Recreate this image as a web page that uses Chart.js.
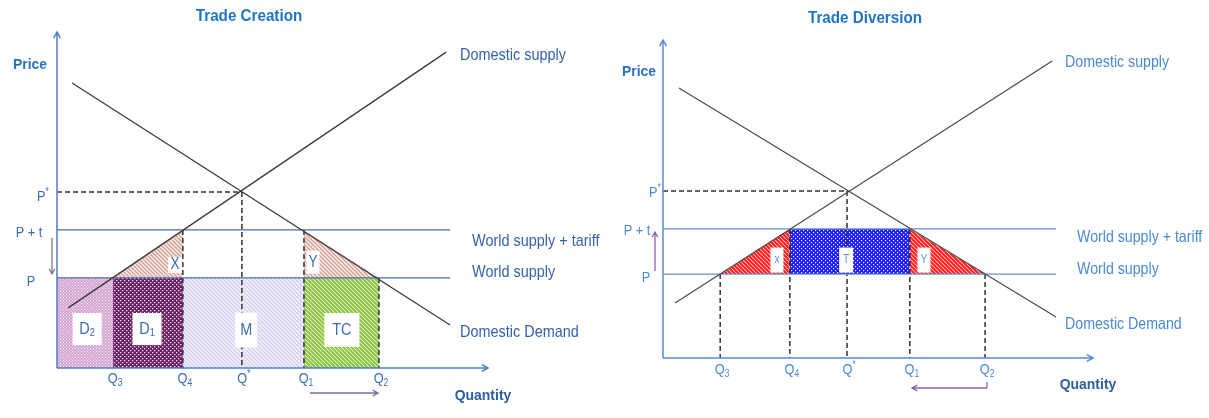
<!DOCTYPE html>
<html>
<head>
<meta charset="utf-8">
<script src="https://cdn.jsdelivr.net/npm/chart.js@4.4.1/dist/chart.umd.min.js"></script>
<style>
    html, body { margin: 0; padding: 0; background: #fff; }
    body { width: 1209px; height: 418px; position: relative; overflow: hidden; }
    canvas { position: absolute; top: 0; }
    #creation { left: 0; }
    #diversion { left: 605px; }
</style>
</head>
<body>
<canvas id="creation" width="605" height="418"></canvas>
<canvas id="diversion" width="604" height="418"></canvas>
<script>
// --- Data (quantity 0-100 on x, price 0-100 on y) ---
const qSubs = ['3', '4', '*', '1', '2'];           // Q3, Q4, Q*, Q1, Q2
const pNames = ['P', 'P + t', 'P'];               // P, P+t, P*
const sideNames = ['Domestic supply', 'World supply + tariff', 'World supply', 'Domestic Demand'];

// Trade Creation
const creationQ = [13.0, 29.2, 42.9, 57.3, 74.7];
const creationP = [26.8, 41.1, 52.4];             // P, P+t, P*
const creationDemand = [{ x: 3.5, y: 84.8 }, { x: 91.2, y: 12.8 }];
const creationSupply = [{ x: 2.6, y: 17.9 }, { x: 90.3, y: 94.0 }];
const creationLineEnd = 91.2;

// Trade Diversion
const diversionQ = [13.3, 29.5, 42.8, 57.4, 74.9];
const diversionP = [26.4, 40.6, 52.5];
const diversionDemand = [{ x: 3.7, y: 84.9 }, { x: 91.4, y: 12.9 }];
const diversionSupply = [{ x: 2.8, y: 17.3 }, { x: 90.5, y: 93.4 }];
const diversionLineEnd = 91.4;

// --- Patterns ---
function hatch(ctx, bg, fg, size, lw) {
    const c = document.createElement('canvas');
    c.width = c.height = size;
    const g = c.getContext('2d');
    g.fillStyle = bg;
    g.fillRect(0, 0, size, size);
    g.strokeStyle = fg;
    g.lineWidth = lw;
    g.beginPath();
    g.moveTo(-1, -1); g.lineTo(size + 1, size + 1);
    g.moveTo(-2, size - 2); g.lineTo(2, size + 2);
    g.moveTo(size - 2, -2); g.lineTo(size + 2, 2);
    g.stroke();
    return ctx.createPattern(c, 'repeat');
}

function dots(ctx, bg, fg, size, d) {
    const c = document.createElement('canvas');
    c.width = c.height = size;
    const g = c.getContext('2d');
    g.fillStyle = bg;
    g.fillRect(0, 0, size, size);
    g.fillStyle = fg;
    g.fillRect(0, 0, d, d);
    g.fillRect(size / 2, size / 2, d, d);
    return ctx.createPattern(c, 'repeat');
}

// --- Dataset helpers ---
const seg = (x1, y1, x2, y2) => [{ x: x1, y: y1 }, { x: x2, y: y2 }];

function lineSet(data, color, width, dash) {
    return { data, borderColor: color, borderWidth: width, borderDash: dash || [], fill: false, pointRadius: 0 };
}

function fillSet(data, pattern, base) {
    return { data, borderWidth: 0, borderColor: 'rgba(0,0,0,0)', backgroundColor: pattern, fill: { value: base }, pointRadius: 0 };
}

// --- Text helpers ---
function txt(ctx, s, x, y, o) {
    ctx.save();
    ctx.font = (o.bold ? 'bold ' : '') + o.size + 'px "Liberation Sans", Arial, sans-serif';
    ctx.fillStyle = o.color;
    ctx.textBaseline = 'middle';
    ctx.textAlign = 'left';
    const w = ctx.measureText(s).width * (o.sx || 1);
    let x0 = x;
    if (o.align === 'center') x0 = x - w / 2;
    if (o.align === 'right') x0 = x - w;
    ctx.translate(x0, y);
    ctx.scale(o.sx || 1, 1);
    ctx.fillText(s, 0, 0);
    ctx.restore();
    return w;
}

function measure(ctx, s, size, sx) {
    ctx.save();
    ctx.font = size + 'px "Liberation Sans", Arial, sans-serif';
    const w = ctx.measureText(s).width * sx;
    ctx.restore();
    return w;
}

// letter with small index (subscript, or superscript for *)
function indexed(ctx, main, sub, x, y, o) {
    const small = Math.round(o.size * 0.65);
    const w1 = measure(ctx, main, o.size, o.sx);
    const w2 = measure(ctx, sub, small, o.sx);
    let x0 = x - (w1 + w2) / 2;
    if (o.align === 'right') x0 = x - w1 - w2;
    txt(ctx, main, x0, y, { size: o.size, color: o.color, sx: o.sx });
    const dy = sub === '*' ? -o.size * 0.3 : o.size * 0.25;
    txt(ctx, sub, x0 + w1, y + dy, { size: small, color: o.color, sx: o.sx });
}

function arrow(ctx, x1, y1, x2, y2, color, width, head) {
    const a = Math.atan2(y2 - y1, x2 - x1);
    ctx.save();
    ctx.strokeStyle = color;
    ctx.lineWidth = width;
    ctx.beginPath();
    ctx.moveTo(x1, y1);
    ctx.lineTo(x2, y2);
    ctx.moveTo(x2 - head * Math.cos(a - 0.5), y2 - head * Math.sin(a - 0.5));
    ctx.lineTo(x2, y2);
    ctx.lineTo(x2 - head * Math.cos(a + 0.5), y2 - head * Math.sin(a + 0.5));
    ctx.stroke();
    ctx.restore();
}

// --- Plugin: axes, labels and annotations ---
const deco = {
    id: 'deco',
    afterDatasetsDraw(chart, args, o) {
        const ctx = chart.ctx;
        const area = chart.chartArea;
        const xs = chart.scales.x;
        const ys = chart.scales.y;

        // axes with arrows
        arrow(ctx, area.left, area.bottom, area.left, area.top, o.axisColor, 1.5, 7);
        arrow(ctx, area.left, area.bottom, area.right, area.bottom, o.axisColor, 1.5, 7);

        // boxed area labels
        o.boxes.forEach(b => {
            const cx = xs.getPixelForValue(b.x);
            const cy = ys.getPixelForValue(b.y);
            ctx.fillStyle = '#ffffff';
            ctx.fillRect(cx - b.w / 2, cy - b.h / 2, b.w, b.h);
            const f = { size: b.size, color: o.boxColor, sx: 0.85, align: 'center' };
            if (b.sub) indexed(ctx, b.main, b.sub, cx, cy, f);
            else txt(ctx, b.main, cx, cy, f);
        });

        // Q tick labels
        o.q.forEach((v, i) => {
            indexed(ctx, 'Q', qSubs[i], xs.getPixelForValue(v) + 2, o.qY, { size: 15, color: o.tickColor, sx: 0.85 });
        });

        // P labels
        const pf = { size: 15, color: o.tickColor, sx: 0.85, align: 'center' };
        txt(ctx, pNames[0], o.pPos[0][0], o.pPos[0][1], pf);
        txt(ctx, pNames[1], o.pPos[1][0], o.pPos[1][1], pf);
        indexed(ctx, pNames[2], '*', o.pPos[2][0], o.pPos[2][1], pf);

        // names of the curves
        sideNames.forEach((s, i) => {
            txt(ctx, s, o.side[i][0], o.side[i][1], { size: o.sideSize, color: o.sideColor, sx: o.sideSx });
        });

        // titles
        txt(ctx, o.title, o.titlePos[0], o.titlePos[1], { size: 16, bold: true, color: '#1f74c6', sx: 0.95, align: 'center' });
        txt(ctx, 'Price', o.pricePos[0], o.pricePos[1], { size: 15, bold: true, color: '#2a72c0', sx: 0.93, align: 'center' });
        txt(ctx, 'Quantity', o.qtyPos[0], o.qtyPos[1], { size: 15, bold: true, color: '#2b5e9e', sx: 0.93, align: 'center' });

        // small movement arrows
        o.arrows.forEach(a => arrow(ctx, a[0], a[1], a[2], a[3], a[4], 1.3, 6));
        if (o.tick) {
            ctx.strokeStyle = o.tick[3];
            ctx.lineWidth = 1.3;
            ctx.beginPath();
            ctx.moveTo(o.tick[0], o.tick[1]);
            ctx.lineTo(o.tick[0], o.tick[2]);
            ctx.stroke();
        }
    }
};

function baseOptions(padding, decoOpts) {
    return {
        responsive: false,
        animation: false,
        devicePixelRatio: 1,
        events: [],
        layout: { padding },
        scales: {
            x: { type: 'linear', min: 0, max: 100, display: false },
            y: { type: 'linear', min: 0, max: 100, display: false }
        },
        elements: { point: { radius: 0 }, line: { tension: 0 } },
        plugins: { legend: { display: false }, tooltip: { enabled: false }, deco: decoOpts }
    };
}

// --- Trade Creation chart ---
const ctxC = document.getElementById('creation').getContext('2d');
const [cQ3, cQ4, cQs, cQ1, cQ2] = creationQ;
const [cP, cPt, cPs] = creationP;
const blueC = '#4a6db3';
const dashC = [5, 3];

new Chart(ctxC, {
    type: 'line',
    data: {
        datasets: [
            lineSet(creationDemand, '#3a3a3a', 1.3),
            lineSet(creationSupply, '#3a3a3a', 1.3),
            lineSet(seg(0, cPt, creationLineEnd, cPt), blueC, 1.3),
            lineSet(seg(0, cP, creationLineEnd, cP), blueC, 1.3),
            lineSet(seg(0, cPs, cQs, cPs), '#333', 1.5, dashC),
            lineSet(seg(cQs, cPs, cQs, 0), '#333', 1.5, dashC),
            lineSet(seg(cQ4, cPt, cQ4, 0), '#333', 1.5, dashC),
            lineSet(seg(cQ1, cPt, cQ1, 0), '#333', 1.5, dashC),
            lineSet(seg(cQ2, cP, cQ2, 0), '#333', 1.5, dashC),
            fillSet(seg(0, cP, cQ3, cP), dots(ctxC, '#d6a6d3', '#f7eaf6', 3, 1), 0),
            fillSet(seg(cQ3, cP, cQ4, cP), dots(ctxC, '#6b2063', '#f0dcee', 4, 1.3), 0),
            fillSet(seg(cQ4, cP, cQ1, cP), hatch(ctxC, '#f4f2fc', '#cdc6ef', 4, 1.1), 0),
            fillSet(seg(cQ1, cP, cQ2, cP), hatch(ctxC, '#ffffff', '#8dc540', 4, 2.2), 0),
            fillSet(seg(cQ3, cP, cQ4, cPt), hatch(ctxC, '#fbf0ee', '#d99a8e', 4, 1.3), cP),
            fillSet(seg(cQ1, cPt, cQ2, cP), hatch(ctxC, '#fbf0ee', '#d99a8e', 4, 1.3), cP)
        ]
    },
    options: baseOptions({ left: 57, right: 117, top: 32, bottom: 50 }, {
        axisColor: '#4f7fc4',
        boxColor: '#3f6db3',
        tickColor: '#3a6db5',
        sideColor: '#3562ad',
        sideSize: 17,
        sideSx: 0.85,
        q: creationQ,
        qY: 379,
        boxes: [
            { x: 7.0, y: 11.6, w: 29, h: 32, main: 'D', sub: '2', size: 17 },
            { x: 20.9, y: 11.6, w: 29, h: 32, main: 'D', sub: '1', size: 17 },
            { x: 43.9, y: 11.3, w: 22, h: 35, main: 'M', size: 17 },
            { x: 66.1, y: 11.3, w: 35, h: 34, main: 'TC', size: 17 },
            { x: 27.4, y: 30.7, w: 14, h: 16, main: 'X', size: 16 },
            { x: 59.4, y: 31.5, w: 13, h: 23, main: 'Y', size: 16 }
        ],
        pPos: [[31, 282], [29, 233], [43, 197]],
        side: [[460, 55], [472, 241], [472, 272], [460, 332]],
        title: 'Trade Creation',
        titlePos: [249, 17],
        pricePos: [30, 65],
        qtyPos: [483, 396],
        arrows: [[52, 238, 52, 274, '#7b7b98'], [310, 393, 378, 393, '#7d6ca0']]
    }),
    plugins: [deco]
});

// --- Trade Diversion chart ---
const ctxD = document.getElementById('diversion').getContext('2d');
const [dQ3, dQ4, dQs, dQ1, dQ2] = diversionQ;
const [dP, dPt, dPs] = diversionP;
const blueD = '#6b8fcb';
const redHatch = hatch(ctxD, '#ffffff', '#ff1d1d', 4, 2.2);

new Chart(ctxD, {
    type: 'line',
    data: {
        datasets: [
            lineSet(diversionDemand, '#4a4a4a', 1.2),
            lineSet(diversionSupply, '#4a4a4a', 1.2),
            lineSet(seg(0, dPt, diversionLineEnd, dPt), blueD, 1.3),
            lineSet(seg(0, dP, diversionLineEnd, dP), blueD, 1.3),
            lineSet(seg(0, dPs, dQs, dPs), '#333', 1.5, dashC),
            lineSet(seg(dQs, dPs, dQs, 0), '#333', 1.5, dashC),
            lineSet(seg(dQ3, dP, dQ3, 0), '#333', 1.5, dashC),
            lineSet(seg(dQ4, dPt, dQ4, 0), '#333', 1.5, dashC),
            lineSet(seg(dQ1, dPt, dQ1, 0), '#333', 1.5, dashC),
            lineSet(seg(dQ2, dP, dQ2, 0), '#333', 1.5, dashC),
            fillSet(seg(dQ4, dPt, dQ1, dPt), dots(ctxD, '#1a1af0', '#ffffff', 4, 1.2), dP),
            fillSet(seg(dQ3, dP, dQ4, dPt), redHatch, dP),
            fillSet(seg(dQ1, dPt, dQ2, dP), redHatch, dP)
        ]
    },
    options: baseOptions({ left: 58, right: 116, top: 40, bottom: 60 }, {
        axisColor: '#5a8bd0',
        boxColor: '#5b9bd5',
        tickColor: '#4a8ad4',
        sideColor: '#4a8ad4',
        sideSize: 16.5,
        sideSx: 0.86,
        q: diversionQ,
        qY: 370,
        boxes: [
            { x: 26.5, y: 30.8, w: 13, h: 25, main: 'x', size: 12 },
            { x: 42.6, y: 30.8, w: 14, h: 25, main: 'T', size: 12 },
            { x: 60.7, y: 30.8, w: 13, h: 25, main: 'Y', size: 12 }
        ],
        pPos: [[41, 278], [32, 231], [50, 193]],
        side: [[460, 62], [472, 237], [472, 269], [460, 324]],
        title: 'Trade Diversion',
        titlePos: [260, 19],
        pricePos: [34, 72],
        qtyPos: [483, 385],
        arrows: [[50, 271, 50, 232, '#8a64b4'], [382, 388, 307, 388, '#8a64b4']],
        tick: [382, 382, 388, '#8a64b4']
    }),
    plugins: [deco]
});
</script>
</body>
</html>
